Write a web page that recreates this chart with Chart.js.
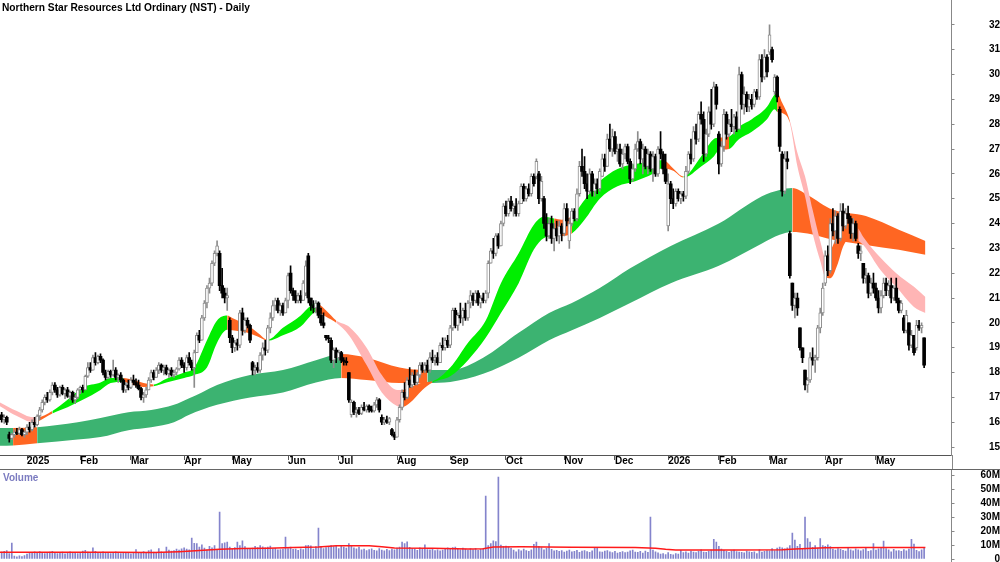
<!DOCTYPE html>
<html><head><meta charset="utf-8">
<script src="https://cdn.jsdelivr.net/npm/chart.js@4.4.1/dist/chart.umd.min.js"></script>
<style>
html,body{margin:0;padding:0;background:#fff;}
#wrap{position:relative;width:1000px;height:562px;overflow:hidden;background:#fff;}
#c1{position:absolute;left:0;top:0;width:1000px;height:469px;}
#c2{position:absolute;left:0;top:469px;width:1000px;height:93px;}
</style></head><body>
<div id="wrap">
<canvas id="c1" width="1000" height="469"></canvas>
<canvas id="c2" width="1000" height="93"></canvas>
</div>
<script>
// ---------- DATA ----------
const titleText = 'Northern Star Resources Ltd Ordinary (NST) - Daily';
const firstK = -10; // trading-day index of the first bar (0 = first trading day of 2025)

const tickK = [0,21,41,62,81,103,123,146,167,189,212,232,253,273,293,315,335];
const tickLabels = ['2025','Feb','Mar','Apr','May','Jun','Jul','Aug','Sep','Oct','Nov','Dec','2026','Feb','Mar','Apr','May'];
const priceTicks = [15,16,17,18,19,20,21,22,23,24,25,26,27,28,29,30,31,32];
const volTicks = [0,10,20,30,40,50,60];

const opens = [
16.3,16.1,16.2,15.5,15.35,15.5,15.6,15.55,15.7,15.5,
15.6,15.8,15.7,16.0,15.9,16.25,16.5,16.8,17.0,16.9,
17.2,17.5,17.3,17.1,17.4,17.15,17.3,17.05,17.2,16.9,
17.0,17.3,17.4,17.3,17.85,18.2,18.1,18.6,18.4,18.65,
18.5,18.0,17.8,18.05,17.9,18.1,17.8,17.9,17.7,17.3,
17.5,17.4,17.7,17.6,17.5,17.35,17.0,17.1,17.3,17.7,
18.0,17.8,18.1,18.3,18.1,18.2,17.95,18.1,17.9,18.0,
18.15,18.5,18.3,18.2,18.6,18.4,18.2,18.8,19.5,19.3,
20.2,20.8,21.4,21.6,22.4,22.8,22.8,21.5,21.2,21.0,
20.1,19.4,19.0,19.2,19.1,20.4,19.7,20.1,19.9,18.4,
18.1,18.2,18.1,18.7,19.0,18.9,19.8,20.2,20.7,20.9,
20.5,20.7,20.4,20.9,22.0,21.3,21.1,20.9,21.1,20.9,
21.2,22.7,21.0,20.7,20.6,20.8,20.3,20.0,19.5,19.4,
19.3,18.5,18.9,18.6,18.8,18.5,18.45,18.0,16.3,16.8,
16.4,16.5,16.35,16.6,16.5,16.65,16.5,16.45,16.7,16.9,
16.2,16.0,16.1,16.0,15.7,15.5,15.4,16.1,16.6,17.2,
17.0,17.7,17.5,17.9,17.6,17.9,18.3,18.1,18.3,18.1,
18.6,18.5,18.6,18.4,19.1,19.0,19.3,19.1,19.8,20.5,
19.9,20.3,20.2,20.5,20.2,20.8,21.1,20.9,21.2,20.8,
21.0,20.9,21.2,22.4,22.9,22.8,23.5,23.1,24.0,24.7,
24.4,24.9,24.6,24.7,24.4,24.8,25.5,25.0,25.4,25.2,
25.9,25.9,26.0,25.0,25.0,24.0,23.5,24.0,23.4,23.8,
23.5,23.9,23.6,24.6,23.3,24.0,24.5,24.2,25.2,26.3,
26.1,25.6,25.3,26.0,25.3,25.6,25.4,25.9,26.6,26.3,
27.4,27.0,27.5,26.9,27.0,26.4,26.8,27.1,26.5,25.8,
26.2,27.0,27.3,26.6,27.0,26.3,26.8,26.2,26.7,26.0,
27.0,26.8,26.2,23.9,25.6,25.0,24.8,25.3,25.0,25.2,
25.1,26.1,26.8,26.6,27.7,27.4,28.4,28.2,26.8,27.6,
28.5,28.0,29.5,27.6,26.4,27.1,28.4,27.6,28.0,27.9,
28.3,27.8,30.0,28.8,29.2,28.7,29.0,28.8,29.3,29.1,
30.6,29.9,30.7,30.9,31.0,29.3,29.9,28.6,26.8,25.3,
26.6,23.6,21.6,20.7,21.0,19.8,19.0,18.1,17.5,17.7,
18.6,18.5,18.6,19.8,20.4,21.6,22.7,22.1,24.0,23.7,
24.3,23.4,24.5,23.9,24.4,24.2,23.6,24.0,23.1,22.8,
22.4,21.8,21.9,21.2,21.6,21.4,21.0,20.6,21.1,21.6,
21.3,21.5,21.0,21.4,20.9,20.5,20.2,19.7,20.0,19.1,
19.5,19.0,19.9,19.8,19.4];
const highs = [
16.4,16.3,16.25,15.6,15.55,15.7,15.75,15.8,15.75,15.65,
15.9,16.0,16.1,16.2,16.3,16.6,16.9,17.1,17.2,17.3,
17.6,17.6,17.4,17.45,17.5,17.35,17.4,17.25,17.25,17.1,
17.35,17.45,17.5,17.9,18.4,18.4,18.7,18.8,18.7,18.75,
18.55,18.1,18.1,18.1,18.5,18.2,17.95,18.0,17.75,17.6,
17.7,17.8,17.9,17.75,17.7,17.4,17.2,17.4,17.8,18.1,
18.1,18.2,18.4,18.35,18.3,18.3,18.15,18.2,18.1,18.2,
18.6,18.6,18.4,18.7,18.8,18.5,18.9,19.6,19.7,20.3,
20.9,21.5,21.8,22.5,22.9,23.3,22.9,22.2,21.4,21.4,
20.2,19.5,19.3,19.35,20.5,20.6,20.2,20.2,19.95,18.45,
18.3,18.4,18.8,19.2,19.3,19.9,20.4,20.9,21.0,21.0,
20.8,20.8,21.0,22.0,22.3,21.4,21.3,21.2,21.3,21.7,
22.5,22.8,21.0,20.9,20.9,20.85,20.6,20.4,19.5,19.5,
19.4,19.0,19.0,18.9,18.85,18.6,18.6,18.0,16.9,16.85,
16.6,16.6,16.7,16.8,16.7,16.7,16.65,16.8,17.0,16.95,
16.3,16.2,16.25,16.2,15.75,15.6,16.2,16.7,17.3,17.6,
17.8,18.2,18.0,18.1,18.0,18.4,18.4,18.4,18.5,18.8,
18.9,18.7,18.8,19.2,19.4,19.4,19.5,19.9,20.6,20.6,
20.4,20.8,20.6,20.8,20.9,21.3,21.2,21.3,21.3,21.1,
21.2,21.3,22.5,23.0,23.4,23.6,23.6,24.1,24.8,24.9,
25.0,25.1,24.8,25.0,24.9,25.6,25.6,25.5,25.6,26.0,
26.0,26.6,26.1,25.9,25.1,24.4,24.2,24.3,24.0,24.1,
24.1,24.0,24.8,24.8,24.2,24.6,24.6,25.4,26.5,27.0,
26.7,26.0,26.2,26.1,25.8,25.8,26.2,26.8,26.8,27.6,
28.0,27.8,27.7,27.2,27.2,27.0,27.2,27.2,26.6,26.4,
27.2,27.7,27.4,27.2,27.1,27.0,26.9,26.9,26.8,27.1,
27.7,26.9,26.8,26.0,25.7,25.4,25.4,25.4,25.3,25.3,
26.3,26.9,27.4,27.9,28.0,28.5,28.9,28.5,27.8,28.7,
29.4,29.7,29.6,27.7,27.3,28.6,28.5,28.2,28.6,28.4,
28.5,30.3,30.1,29.5,29.3,29.2,29.2,29.4,29.4,30.8,
30.8,31.0,30.8,32.0,31.1,30.0,29.95,28.7,26.9,26.9,
26.9,23.7,21.6,21.2,21.2,19.8,19.0,18.1,17.8,18.8,
19.0,18.7,19.9,20.6,21.6,22.9,23.1,24.2,24.6,24.5,
24.4,24.8,24.8,24.6,24.7,24.3,24.2,24.1,23.2,23.1,
22.4,22.2,22.0,21.8,22.0,21.6,21.3,21.3,21.8,21.8,
21.7,21.8,21.5,21.8,21.0,20.9,20.3,20.5,20.0,19.7,
19.5,20.1,20.1,20.0,19.4];
const lows = [
16.0,15.95,15.9,15.2,15.3,15.4,15.5,15.5,15.45,15.4,
15.5,15.6,15.65,15.8,15.85,16.1,16.4,16.7,16.8,16.85,
17.1,17.2,17.0,17.05,17.1,16.95,17.0,16.9,16.8,16.75,
16.95,17.15,17.2,17.3,17.8,18.0,18.1,18.3,18.35,18.4,
17.9,17.7,17.75,17.8,17.85,17.7,17.6,17.6,17.2,17.2,
17.3,17.35,17.5,17.4,17.3,16.9,16.8,17.0,17.3,17.6,
17.7,17.8,17.95,18.0,17.9,17.9,17.8,17.85,17.8,17.9,
18.1,18.2,18.0,18.1,18.3,18.1,17.4,18.8,19.2,19.3,
20.1,20.6,21.2,21.5,22.3,22.7,21.3,21.0,20.8,20.5,
19.2,18.8,18.85,18.9,19.0,19.5,19.6,19.8,19.2,17.9,
17.9,18.0,18.0,18.5,18.7,18.8,19.6,20.1,20.5,20.4,
20.3,20.3,20.4,20.6,21.2,20.9,20.8,20.8,20.8,20.9,
21.1,20.8,20.5,20.4,20.4,20.2,19.9,19.8,19.3,19.2,
18.4,18.2,18.4,18.5,18.4,18.3,18.3,16.8,16.2,16.3,
16.2,16.3,16.3,16.45,16.4,16.4,16.4,16.4,16.6,16.4,
15.9,15.9,15.95,15.9,15.45,15.3,15.4,16.0,16.5,16.9,
16.95,17.4,17.4,17.5,17.5,17.8,18.0,18.0,18.0,18.0,
18.4,18.3,18.3,18.4,18.9,18.9,19.0,19.0,19.7,19.8,
19.7,20.0,19.9,20.1,20.1,20.6,20.7,20.8,20.7,20.6,
20.8,20.8,21.0,22.4,22.6,22.7,23.0,23.1,23.9,24.3,
24.3,24.5,24.3,24.3,24.3,24.8,24.9,24.9,25.1,25.1,
25.5,25.8,24.8,24.9,23.8,23.3,23.4,23.2,22.9,23.3,
23.2,23.3,23.5,23.9,23.0,23.9,24.1,24.1,25.1,25.9,
25.4,25.0,25.2,25.1,25.1,25.2,25.3,25.9,26.1,26.3,
26.9,26.7,26.8,26.5,26.3,26.2,26.6,26.4,25.6,25.7,
26.1,26.9,26.4,26.0,26.2,26.0,26.1,25.7,25.9,25.9,
26.6,26.0,25.6,23.7,24.8,24.6,24.7,24.9,24.8,24.9,
25.0,26.0,26.4,26.5,27.2,27.3,28.0,26.5,26.7,27.5,
27.8,27.9,28.6,26.0,26.3,26.9,27.4,27.5,27.7,27.6,
27.7,27.8,28.6,28.4,28.5,28.5,28.6,28.7,29.0,29.0,
29.7,29.8,29.9,30.8,30.5,29.2,28.9,26.9,25.1,25.2,
26.2,21.8,20.5,20.2,20.3,18.9,18.4,17.3,17.2,17.6,
18.3,18.0,18.5,19.6,20.3,21.5,21.9,22.0,23.5,23.2,
23.2,23.3,23.7,23.8,24.0,23.4,23.3,23.3,22.6,22.5,
21.6,21.6,21.0,21.1,21.2,20.9,20.4,20.4,21.0,21.1,
21.1,20.8,20.9,20.8,20.4,20.4,19.6,19.6,18.9,19.0,
18.7,18.9,19.7,19.6,18.2];
const closes = [
16.1,16.2,16.0,15.35,15.5,15.6,15.55,15.7,15.5,15.6,
15.8,15.7,16.0,15.9,16.25,16.5,16.8,17.0,16.9,17.2,
17.5,17.3,17.1,17.4,17.15,17.3,17.05,17.2,16.9,17.0,
17.3,17.4,17.3,17.85,18.2,18.1,18.6,18.4,18.65,18.5,
18.0,17.8,18.05,17.9,18.1,17.8,17.9,17.7,17.3,17.5,
17.4,17.7,17.6,17.5,17.35,17.0,17.1,17.3,17.7,18.0,
17.8,18.1,18.3,18.1,18.2,17.95,18.1,17.9,18.0,18.15,
18.5,18.3,18.2,18.6,18.4,18.2,18.8,19.5,19.3,20.2,
20.8,21.4,21.6,22.4,22.8,23.1,21.5,21.2,21.0,21.1,
19.4,19.0,19.2,19.1,20.4,19.7,20.1,19.9,19.3,18.1,
18.2,18.1,18.7,19.0,18.9,19.8,20.2,20.7,20.9,20.5,
20.7,20.4,20.9,21.9,21.3,21.1,20.9,21.1,20.9,21.6,
22.3,21.0,20.7,20.6,20.8,20.3,20.0,19.9,19.4,19.35,
18.5,18.9,18.6,18.8,18.5,18.45,18.4,16.9,16.8,16.4,
16.5,16.35,16.6,16.5,16.65,16.5,16.45,16.7,16.9,16.5,
16.0,16.1,16.0,16.15,15.5,15.4,16.1,16.6,17.2,17.0,
17.7,17.5,17.9,17.6,17.9,18.3,18.1,18.3,18.1,18.6,
18.5,18.6,18.4,19.1,19.0,19.3,19.1,19.8,20.5,19.9,
20.3,20.2,20.5,20.2,20.8,21.1,20.9,21.2,20.8,21.0,
20.9,21.2,22.4,22.9,22.8,23.5,23.1,24.0,24.7,24.4,
24.9,24.6,24.7,24.4,24.8,25.5,25.0,25.4,25.2,25.9,
25.6,26.5,25.0,25.7,24.0,23.5,24.0,23.4,23.8,23.5,
23.9,23.6,24.6,24.1,24.0,24.5,24.2,25.2,26.3,26.1,
25.6,25.3,26.0,25.3,25.6,25.4,26.1,26.6,26.3,27.4,
27.0,27.5,26.9,27.0,26.4,26.8,27.1,26.5,25.8,26.2,
27.0,27.3,26.6,27.0,26.3,26.8,26.2,26.7,26.0,27.0,
26.8,26.2,25.7,25.6,25.0,24.8,25.3,25.0,25.2,25.1,
26.1,26.8,26.6,27.7,27.4,28.4,28.2,26.8,27.6,28.5,
28.0,29.5,28.8,26.4,27.1,28.4,27.6,28.0,27.9,28.3,
27.8,30.0,28.8,29.2,28.7,29.0,28.8,29.3,29.1,30.6,
29.9,30.7,30.1,31.6,30.6,29.9,29.1,27.1,25.3,26.6,
26.5,21.9,20.7,21.0,20.6,19.0,18.6,17.5,17.7,18.6,
18.5,18.6,19.8,20.4,21.4,22.7,22.1,24.0,23.7,24.3,
23.4,24.5,23.9,24.4,24.2,23.6,24.0,23.4,22.8,22.9,
21.8,21.9,21.2,21.6,21.4,21.0,20.6,21.1,21.6,21.3,
21.5,21.0,21.4,20.9,20.5,20.8,19.7,20.3,19.1,19.5,
18.8,19.9,19.8,19.9,18.3];
const volumes = [
5.0,5.5,6.0,3.8,11.4,2.0,1.5,2.2,1.8,2.5,
3.5,4.2,4.0,5.1,4.4,5.3,4.8,3.9,4.6,5.0,
5.5,4.1,3.8,4.5,4.9,3.7,4.2,5.2,4.0,4.4,
3.9,4.8,5.6,6.2,5.0,4.3,8.0,5.4,4.6,4.1,
5.2,4.7,4.0,3.8,4.5,5.1,4.2,3.9,4.4,4.8,
4.3,3.7,4.6,6.8,4.0,4.5,5.3,4.1,6.0,6.5,
5.0,4.6,7.5,5.2,4.8,8.5,6.3,5.6,6.0,7.0,
6.4,7.2,8.0,7.1,6.5,15.0,11.2,11.0,8.5,10.2,
7.8,6.5,9.1,8.0,9.5,6.8,33.6,11.0,11.5,12.0,
8.5,7.0,8.2,12.0,9.5,13.0,8.8,7.5,6.9,7.8,
9.0,8.2,9.6,8.7,7.9,8.5,9.3,7.2,7.6,6.5,
6.8,7.1,15.7,7.4,8.5,6.9,7.0,6.2,7.3,6.7,
9.5,9.8,9.4,7.0,8.8,22.0,9.0,7.5,8.2,9.1,
9.6,8.8,9.2,7.4,9.0,8.6,7.8,11.0,9.4,8.0,
7.2,8.5,6.6,7.1,6.0,6.8,7.3,6.2,5.9,7.5,
6.4,5.8,6.9,6.1,7.0,6.6,7.8,8.5,12.0,11.0,
12.3,8.4,7.5,7.0,6.2,8.0,7.2,10.2,6.8,6.5,
7.1,6.0,6.6,5.8,6.3,7.2,8.0,6.9,8.1,8.5,
7.3,6.6,7.8,7.0,6.4,7.5,6.8,7.7,6.2,6.9,
7.4,45.0,9.5,11.0,13.0,12.5,58.6,10.0,9.0,9.2,
8.5,7.6,6.4,5.2,6.8,5.9,7.1,6.0,5.5,6.6,
10.5,12.0,9.0,8.1,6.5,7.7,11.0,6.9,5.8,6.2,
5.4,6.0,4.9,5.6,6.3,5.1,5.5,6.2,4.8,5.7,
6.1,5.3,4.7,5.9,8.1,7.7,5.2,4.9,5.6,6.0,
5.1,4.6,5.5,4.3,4.8,5.3,4.5,5.0,5.8,6.4,
5.0,4.7,5.4,4.2,5.6,4.8,30.0,6.4,5.2,4.4,
3.6,3.9,3.2,4.5,3.3,3.0,3.8,3.5,6.2,4.6,
5.1,4.3,5.7,4.9,4.6,5.4,6.5,5.0,4.8,5.5,
6.4,14.0,12.0,9.0,7.0,6.2,5.4,4.8,5.9,6.3,
5.3,5.0,4.7,4.4,5.6,5.1,4.8,5.2,3.9,6.5,
4.9,5.5,6.0,5.8,7.5,6.1,7.8,8.5,8.0,7.2,
8.0,9.5,18.5,13.5,9.0,10.5,7.6,30.0,14.5,12.0,
8.4,9.6,7.8,14.5,9.5,9.0,10.2,8.8,7.1,6.4,
7.4,6.9,6.2,5.6,7.8,6.5,5.8,7.2,6.6,5.9,
6.8,7.6,5.5,6.0,11.0,6.3,7.2,8.0,12.8,7.4,
6.6,5.2,6.9,5.8,6.1,5.4,6.7,5.9,7.0,14.0,
10.6,6.2,5.3,6.5,8.0];

// short-term moving-average band (read at sampled days); colour applies to the segment that starts at the point
const shortK   = [-10.7,-4,2.4,4,10,16,22,29,33,38,42,46,50,55,62,66,71,75,79,81,87,91,95,101,108,112,114,118,122,127,134,140,146,148,151,156,160,167,174,181,187,194,200,204,208,211,215,220,226,233,240,247,251,255,259,266,271,273,277,281,286,292,295,296,298,301,304,307,310,313,315,317,320,322,325,328,330,337,343,350,354.5];
const shortTop = [16.8,16.45,16.2,16.2,16.45,16.9,17.4,17.6,17.78,17.78,17.7,17.58,17.52,17.75,18.0,18.2,19.3,20.1,20.3,20.2,19.9,19.6,19.32,19.8,20.3,20.7,20.8,20.5,20.1,19.85,19.0,17.9,17.3,17.3,17.4,17.6,17.65,18.2,19.2,20.1,21.6,22.8,23.95,24.27,24.2,24.15,24.3,24.95,25.7,26.2,26.4,26.5,26.56,26.22,25.9,26.7,27.4,27.45,27.5,27.9,28.2,28.7,29.2,29.26,28.86,28.15,26.85,25.9,24.55,23.3,22.65,22.9,23.6,24.0,24.07,23.8,23.46,22.6,22.0,21.45,21.04];
const shortBot = [16.65,16.25,16.0,16.02,16.35,16.6,16.9,17.3,17.58,17.62,17.5,17.42,17.45,17.6,17.78,17.9,18.2,19.2,19.72,19.7,19.6,19.45,19.28,19.5,19.85,20.3,20.45,20.25,20.0,19.5,18.3,17.2,16.65,16.6,16.77,17.3,17.6,17.85,18.5,19.4,20.4,21.6,22.95,23.42,23.5,23.5,23.6,24.15,25.0,25.5,25.7,26.0,26.24,26.12,25.85,26.3,26.7,26.95,27.0,27.4,27.7,28.2,28.6,28.5,28.45,28.05,26.3,25.1,23.6,22.5,21.85,21.8,22.4,23.06,23.46,23.3,23.14,22.1,21.45,20.64,20.4];
const shortState = ['P','P','P','O','G','G','G','G','G','O','O','O','G','G','G','G','G','G','O','O','O','O','G','G','G','G','O','O','P','P','P','P','P','O','O','O','G','G','G','G','G','G','G','G','O','O','G','G','G','G','G','G','O','O','G','G','G','O','G','G','G','G','G','O','O','P','P','P','P','P','O','O','O','O','O','P','P','P','P','P','P'];

// long-term moving-average band
const longK   = [-10.7,-5.5,4,20,29,40,49,58,64,69,75,88,101,114,124,134,147,158,167,180,194,206,215,226,238,254,273,290,297,302,308,318,331,344,354.5];
const longTop = [15.77,15.77,15.8,16.0,16.17,16.4,16.49,16.7,16.97,17.2,17.5,17.9,18.1,18.5,18.75,18.6,18.2,18.1,18.1,18.6,19.6,20.4,20.8,21.4,22.2,23.1,24.0,25.1,25.35,25.43,25.15,24.55,24.3,23.75,23.3];
const longBot = [15.05,15.06,15.15,15.3,15.4,15.68,15.8,16.0,16.3,16.5,16.7,17.0,17.2,17.6,17.78,17.7,17.58,17.58,17.62,17.95,18.6,19.3,19.7,20.2,20.8,21.6,22.3,23.2,23.55,23.66,23.6,23.35,23.14,22.94,22.74];
const longState = ['G','O','G','G','G','G','G','G','G','G','G','G','G','G','O','O','O','G','G','G','G','G','G','G','G','G','G','G','G','O','O','O','O','O','O'];

// volume average line
const maK   = [-10.7,35,50,60,68,76,85,95,105,115,122,135,140,145,160,174,180,184,195,215,240,248,252,256,280,298,303,315,330,354.5];
const maVal = [4.8,4.8,4.6,5.2,6.0,6.9,7.5,7.7,8.3,8.6,9.4,9.5,8.8,7.8,7.6,7.1,7.4,8.6,8.8,8.4,8.2,7.7,6.9,6.4,6.4,6.6,7.2,8.0,8.3,8.3];

// ---------- STYLE ----------
const shortColors = {G:'#00ee00', O:'#ff6622', P:'#ffb5b5'};
const longColors  = {G:'#3cb371', O:'#ff6622'};
const FONT = '"Liberation Sans", Arial, sans-serif';
const xMin = -10.66, xMax = 364.8;

const barK = opens.map((_, i) => firstK + i);
const isUp = i => closes[i] >= opens[i];

function bandPair(K, top, bot, states, palette, order) {
  return [
    {type:'line', data:K.map((k,i)=>({x:k,y:top[i]})), fill:'+1', borderWidth:0, borderColor:'rgba(0,0,0,0)',
     pointRadius:0, cubicInterpolationMode:'monotone', backgroundColor:palette[states[0]],
     segment:{backgroundColor:c=>palette[states[c.p0DataIndex]]}, order},
    {type:'line', data:K.map((k,i)=>({x:k,y:bot[i]})), fill:false, borderWidth:0, borderColor:'rgba(0,0,0,0)',
     pointRadius:0, cubicInterpolationMode:'monotone', order}
  ];
}
function noPad(s) { s.paddingTop = 0; s.paddingBottom = 0; s.paddingLeft = 0; s.paddingRight = 0; }

const overlay1 = {
  id:'overlay1',
  afterDraw(chart) {
    const ctx = chart.ctx, a = chart.chartArea;
    ctx.save();
    ctx.font = 'bold 10.2px ' + FONT;
    ctx.fillStyle = '#000';
    ctx.textBaseline = 'middle';
    ctx.fillText(titleText, 2, 8);
    ctx.strokeStyle = '#888';
    ctx.lineWidth = 1;
    ctx.beginPath();
    ctx.moveTo(Math.round(a.right)+0.5, a.bottom);
    ctx.lineTo(Math.round(a.right)+0.5, chart.height);
    ctx.stroke();
    ctx.restore();
  }
};
const overlay2 = {
  id:'overlay2',
  afterDraw(chart) {
    const ctx = chart.ctx;
    ctx.save();
    ctx.strokeStyle = '#666';
    ctx.lineWidth = 1;
    ctx.beginPath();
    ctx.moveTo(0, 0.5); ctx.lineTo(chart.width, 0.5);
    ctx.stroke();
    ctx.font = 'bold 10px ' + FONT;
    ctx.fillStyle = '#7b7bc0';
    ctx.textBaseline = 'middle';
    ctx.fillText('Volume', 3, 9.5);
    ctx.restore();
  }
};

// ---------- PRICE CHART ----------
new Chart(document.getElementById('c1'), {
  type:'bar',
  data:{datasets:[
    ...bandPair(shortK, shortTop, shortBot, shortState, shortColors, 2),
    ...bandPair(longK, longTop, longBot, longState, longColors, 3),
    {type:'bar', data:barK.map((k,i)=>({x:k,y:[lows[i],highs[i]]})), grouped:false, barThickness:1,
     backgroundColor:c=>isUp(c.dataIndex)?'#8c8c8c':'#000', order:1},
    {type:'bar', data:barK.map((k,i)=>({x:k,y:[opens[i],closes[i]]})), grouped:false, barThickness:3, minBarLength:1,
     backgroundColor:c=>isUp(c.dataIndex)?'#ffffff':'#000',
     borderColor:c=>isUp(c.dataIndex)?'#8c8c8c':'#000',
     borderWidth:c=>isUp(c.dataIndex)?1:0, borderSkipped:false, order:0}
  ]},
  options:{
    responsive:false, animation:false, events:[],
    layout:{padding:0},
    plugins:{legend:{display:false}, tooltip:{enabled:false}},
    scales:{
      x:{type:'linear', min:xMin, max:xMax, offset:false,
         afterBuildTicks:s=>{ s.ticks = tickK.map(v=>({value:v})); },
         afterFit:s=>{ s.height = 14; noPad(s); },
         grid:{display:true, drawOnChartArea:false, drawTicks:true, tickLength:5, color:'#555', offset:false},
         border:{display:true, color:'#555'},
         ticks:{autoSkip:false, maxRotation:0, minRotation:0, align:'start', padding:-4.5, color:'#000',
                font:{family:FONT, size:10, weight:'bold'},
                callback:v=>tickLabels[tickK.indexOf(v)]}},
      y:{type:'linear', position:'right', min:14.68, max:33.0,
         afterBuildTicks:s=>{ s.ticks = priceTicks.map(v=>({value:v})); },
         afterFit:s=>{ s.width = 48.5; noPad(s); },
         grid:{drawOnChartArea:false, drawTicks:true, tickLength:3, color:'#888'},
         border:{display:true, color:'#888'},
         ticks:{autoSkip:false, crossAlign:'far', padding:31, color:'#000',
                font:{family:FONT, size:10, weight:'bold'}, callback:v=>String(v)}}
    }
  },
  plugins:[overlay1]
});

// ---------- VOLUME CHART ----------
new Chart(document.getElementById('c2'), {
  type:'bar',
  data:{datasets:[
    {type:'line', data:maK.map((k,i)=>({x:k,y:maVal[i]})), borderColor:'#ff1a1a', borderWidth:1.5, pointRadius:0, tension:0, fill:false, order:0},
    {type:'bar', data:barK.map((k,i)=>({x:k,y:volumes[i]})), grouped:false, barThickness:1, backgroundColor:'#8484cc', order:1}
  ]},
  options:{
    responsive:false, animation:false, events:[],
    layout:{padding:0},
    plugins:{legend:{display:false}, tooltip:{enabled:false}},
    scales:{
      x:{type:'linear', min:xMin, max:xMax, offset:false, display:false},
      y:{type:'linear', position:'right', min:-2.14, max:64.29,
         afterBuildTicks:s=>{ s.ticks = volTicks.map(v=>({value:v})); },
         afterFit:s=>{ s.width = 48.5; noPad(s); },
         grid:{drawOnChartArea:false, drawTicks:true, tickLength:3, color:'#888'},
         border:{display:true, color:'#888'},
         ticks:{autoSkip:false, crossAlign:'far', padding:24, color:'#000',
                font:{family:FONT, size:10, weight:'bold'}, callback:v=>v===0?'0':v+'M'}}
    }
  },
  plugins:[overlay2]
});
</script>
</body></html>
